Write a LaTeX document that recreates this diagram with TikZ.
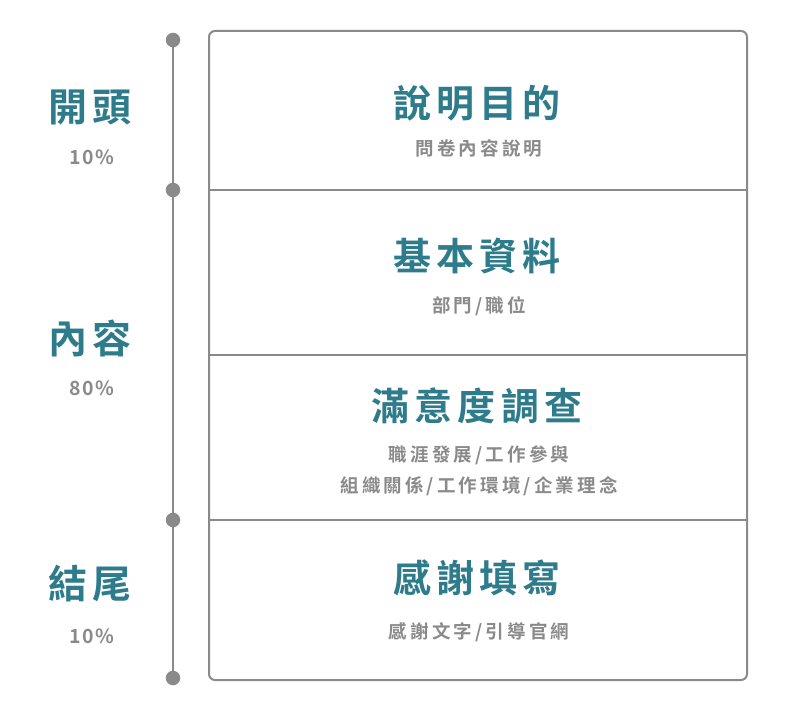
\documentclass[tikz,border=0pt]{standalone}
\usepackage{fontspec}
\setmainfont{Noto Sans CJK TC}[BoldFont={* Bold}]
\newfontfamily\cjkb{Noto Sans CJK TC Bold}[LetterSpace=14]
\newfontfamily\cjks{Noto Sans CJK TC Bold}[LetterSpace=17]
\newfontfamily\cjkp{Noto Sans CJK TC Bold}[LetterSpace=8]
\definecolor{teal}{HTML}{2E7B8B}
\definecolor{gr}{HTML}{8A8A8A}
\begin{document}
\begin{tikzpicture}[x=1pt,y=-1pt,
  title/.style={text=teal,font=\cjkb\fontsize{38}{44}\selectfont,inner sep=0pt},
  side/.style={text=teal,font=\cjkb\fontsize{39}{46}\selectfont,inner sep=0pt},
  sub/.style={text=gr,font=\cjks\fontsize{18.5}{22}\selectfont,inner sep=0pt},
  pct/.style={text=gr,font=\cjkp\fontsize{19.5}{22}\selectfont,inner sep=0pt},
  dot/.style={circle,fill=gr,minimum size=14.5pt,inner sep=0pt},
  ln/.style={draw=gr,line width=2pt},
  tl/.style={draw=gr,line width=2.6pt}]
\useasboundingbox (0,0) rectangle (800,719);
% frame
\draw[ln,rounded corners=6pt] (209,31) rectangle (747,680);
\coordinate (d1l) at (209,190); \coordinate (d1r) at (747,190);
\coordinate (d2l) at (209,355); \coordinate (d2r) at (747,355);
\coordinate (d3l) at (209,520); \coordinate (d3r) at (747,520);
\draw[ln] (d1l) -- (d1r);
\draw[ln] (d2l) -- (d2r);
\draw[ln] (d3l) -- (d3r);
% timeline
\node[dot] (t1) at (173,40) {};
\node[dot] (t2) at (173,190) {};
\node[dot] (t3) at (173,520) {};
\node[dot] (t4) at (173,678) {};
\draw[tl] (t1) -- (t2);
\draw[tl] (t2) -- (t3);
\draw[tl] (t3) -- (t4);
% side labels
\node[side] (s1) at (90,107) {開頭};
\node[pct] (p1) at (92,157) {10\%};
\node[side] (s2) at (90,338) {內容};
\node[pct] (p2) at (92,388) {80\%};
\node[side] (s3) at (90,584) {結尾};
\node[pct] (p3) at (92,636) {10\%};
% titles
\node[title] (h1) at (477,103) {說明目的};
\node[sub] (b1) at (479,148) {問卷內容說明};
\node[title] (h2) at (477,256) {基本資料};
\node[sub] (b2) at (479,306) {部門/職位};
\node[title] (h3) at (477,406) {滿意度調查};
\node[sub] (b3) at (479,455) {職涯發展/工作參與};
\node[sub] (b4) at (479,486) {組織關係/工作環境/企業理念};
\node[title] (h4) at (477,578) {感謝填寫};
\node[sub] (b5) at (479,632) {感謝文字/引導官網};
\end{tikzpicture}
\end{document}
